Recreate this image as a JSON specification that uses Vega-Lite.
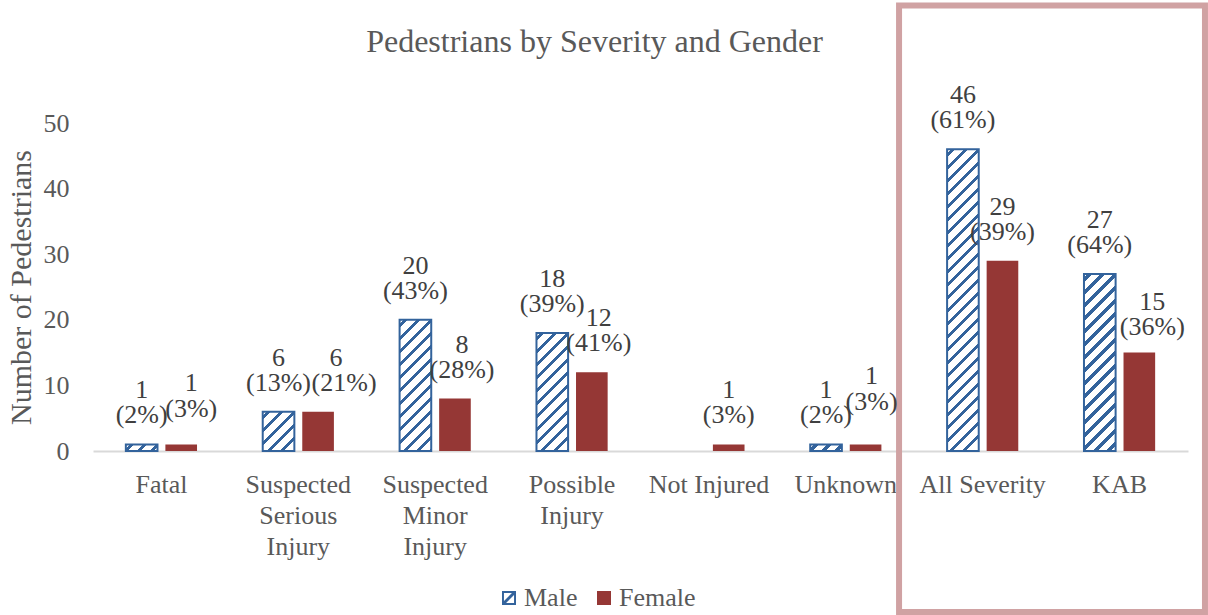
{
"$schema": "https://vega.github.io/schema/vega-lite/v6.json",
"width": 1095, "height": 328,
"autosize": {"type": "none"},
"padding": {"left": 93, "top": 123, "right": 20, "bottom": 164},
"config": {"font": "Liberation Serif", "view": {"stroke": null}},
"title": {"text": "Pedestrians by Severity and Gender", "fontSize": 32, "fontWeight": "normal", "color": "#595959", "font": "Liberation Serif", "anchor": "middle", "frame": "group", "dx": -46, "offset": 0, "dy": 81, "baseline": "alphabetic"},
"data": {"values": [
{"cat": "Fatal", "gender": "Male", "n": 1, "pct": "(2%)"},
{"cat": "Fatal", "gender": "Female", "n": 1, "pct": "(3%)"},
{"cat": "Suspected Serious Injury", "gender": "Male", "n": 6, "pct": "(13%)"},
{"cat": "Suspected Serious Injury", "gender": "Female", "n": 6, "pct": "(21%)"},
{"cat": "Suspected Minor Injury", "gender": "Male", "n": 20, "pct": "(43%)"},
{"cat": "Suspected Minor Injury", "gender": "Female", "n": 8, "pct": "(28%)"},
{"cat": "Possible Injury", "gender": "Male", "n": 18, "pct": "(39%)"},
{"cat": "Possible Injury", "gender": "Female", "n": 12, "pct": "(41%)"},
{"cat": "Not Injured", "gender": "Female", "n": 1, "pct": "(3%)"},
{"cat": "Unknown", "gender": "Male", "n": 1, "pct": "(2%)"},
{"cat": "Unknown", "gender": "Female", "n": 1, "pct": "(3%)"},
{"cat": "All Severity", "gender": "Male", "n": 46, "pct": "(61%)"},
{"cat": "All Severity", "gender": "Female", "n": 29, "pct": "(39%)"},
{"cat": "KAB", "gender": "Male", "n": 27, "pct": "(64%)"},
{"cat": "KAB", "gender": "Female", "n": 15, "pct": "(36%)"}
]},
"resolve": {"scale": {"x": "independent", "y": "independent"}},
"layer": [
{
"data": {"values": [{}]},
"mark": {"type": "rect", "filled": false, "color": "#d0a2a3", "strokeWidth": 6},
"encoding": {
"x": {"datum": 5.889, "type": "quantitative", "scale": {"domain": [0, 8]}, "axis": null},
"x2": {"datum": 8.124},
"y": {"datum": 67.91, "type": "quantitative", "scale": {"domain": [0, 50]}, "axis": null},
"y2": {"datum": -24.54}
}
},
{
"encoding": {
"x": {"field": "cat", "type": "nominal", "sort": null,
"scale": {"domain": ["Fatal", "Suspected Serious Injury", "Suspected Minor Injury", "Possible Injury", "Not Injured", "Unknown", "All Severity", "KAB"], "paddingInner": 0.48, "paddingOuter": 0.24},
"axis": {"title": null, "labelAngle": 0, "labelFontSize": 26, "labelColor": "#595959", "labelFont": "Liberation Serif", "labelPadding": 20, "labelLineHeight": 31, "ticks": false, "domainColor": "#d9d9d9", "domainWidth": 2, "labelOverlap": false, "labelLimit": 0, "labelBaseline": "top",
"labelExpr": "datum.label == 'Not Injured' || datum.label == 'All Severity' ? datum.label : split(datum.label, ' ')"}},
"xOffset": {"field": "gender", "type": "nominal", "scale": {"domain": ["Male", "Female"], "paddingInner": 0.2, "paddingOuter": 0}},
"y": {"field": "n", "type": "quantitative", "scale": {"domain": [0, 50], "nice": false},
"axis": {"title": "Number of Pedestrians", "titleFontSize": 30, "titleColor": "#595959", "titleFontWeight": "normal", "titleFont": "Liberation Serif", "titleX": -63, "titleY": 164, "titleAngle": -90, "titleBaseline": "alphabetic", "titleAlign": "center", "labelFontSize": 26, "labelColor": "#595959", "labelFont": "Liberation Serif", "labelPadding": 24, "ticks": false, "domain": false, "gridColor": "#d9d9d9", "gridWidth": 2, "values": [0, 10, 20, 30, 40, 50]}}
},
"layer": [
{
"mark": {"type": "bar", "strokeWidth": 2},
"encoding": {
"fill": {"field": "gender", "type": "nominal",
"scale": {"domain": ["Male", "Female"], "range": ["#33639c", "#953735"]},
"legend": {"orient": "none", "legendX": 403, "legendY": 462, "direction": "horizontal", "title": null, "symbolSize": 196, "labelFontSize": 26, "labelColor": "#595959", "labelFont": "Liberation Serif", "labelOffset": 2, "columnPadding": 13, "symbolStrokeWidth": 0},
"condition": [
{"test": "datum.gender === 'Male' && datum.n === 1", "value": {"gradient": "linear", "x1": 0, "y1": 0, "x2": 9.860, "y2": 2.047, "stops": [{"offset":0,"color":"#fff"},
{"offset":0.012,"color":"#fff"},{"offset":0.012,"color":"#33639c"},{"offset":0.026,"color":"#33639c"},{"offset":0.026,"color":"#fff"},
{"offset":0.052,"color":"#fff"},{"offset":0.052,"color":"#33639c"},{"offset":0.066,"color":"#33639c"},{"offset":0.066,"color":"#fff"},
{"offset":0.092,"color":"#fff"},{"offset":0.092,"color":"#33639c"},{"offset":0.106,"color":"#33639c"},{"offset":0.106,"color":"#fff"},
{"offset":1,"color":"#fff"}]}},
{"test": "datum.gender === 'Male' && datum.n === 6", "value": {"gradient": "linear", "x1": 0, "y1": 0, "x2": 4.031, "y2": 5.021, "stops": [{"offset":0,"color":"#fff"},
{"offset":0.012,"color":"#fff"},{"offset":0.012,"color":"#33639c"},{"offset":0.026,"color":"#33639c"},{"offset":0.026,"color":"#fff"},
{"offset":0.052,"color":"#fff"},{"offset":0.052,"color":"#33639c"},{"offset":0.066,"color":"#33639c"},{"offset":0.066,"color":"#fff"},
{"offset":0.092,"color":"#fff"},{"offset":0.092,"color":"#33639c"},{"offset":0.106,"color":"#33639c"},{"offset":0.106,"color":"#fff"},
{"offset":0.132,"color":"#fff"},{"offset":0.132,"color":"#33639c"},{"offset":0.146,"color":"#33639c"},{"offset":0.146,"color":"#fff"},
{"offset":0.172,"color":"#fff"},{"offset":0.172,"color":"#33639c"},{"offset":0.186,"color":"#33639c"},{"offset":0.186,"color":"#fff"},
{"offset":0.212,"color":"#fff"},{"offset":0.212,"color":"#33639c"},{"offset":0.226,"color":"#33639c"},{"offset":0.226,"color":"#fff"},
{"offset":1,"color":"#fff"}]}},
{"test": "datum.gender === 'Male' && datum.n === 20", "value": {"gradient": "linear", "x1": 0, "y1": 0, "x2": 0.5639, "y2": 2.3413, "stops": [{"offset":0,"color":"#fff"},
{"offset":0.012,"color":"#fff"},{"offset":0.012,"color":"#33639c"},{"offset":0.026,"color":"#33639c"},{"offset":0.026,"color":"#fff"},
{"offset":0.052,"color":"#fff"},{"offset":0.052,"color":"#33639c"},{"offset":0.066,"color":"#33639c"},{"offset":0.066,"color":"#fff"},
{"offset":0.092,"color":"#fff"},{"offset":0.092,"color":"#33639c"},{"offset":0.106,"color":"#33639c"},{"offset":0.106,"color":"#fff"},
{"offset":0.132,"color":"#fff"},{"offset":0.132,"color":"#33639c"},{"offset":0.146,"color":"#33639c"},{"offset":0.146,"color":"#fff"},
{"offset":0.172,"color":"#fff"},{"offset":0.172,"color":"#33639c"},{"offset":0.186,"color":"#33639c"},{"offset":0.186,"color":"#fff"},
{"offset":0.212,"color":"#fff"},{"offset":0.212,"color":"#33639c"},{"offset":0.226,"color":"#33639c"},{"offset":0.226,"color":"#fff"},
{"offset":0.252,"color":"#fff"},{"offset":0.252,"color":"#33639c"},{"offset":0.266,"color":"#33639c"},{"offset":0.266,"color":"#fff"},
{"offset":0.292,"color":"#fff"},{"offset":0.292,"color":"#33639c"},{"offset":0.306,"color":"#33639c"},{"offset":0.306,"color":"#fff"},
{"offset":0.332,"color":"#fff"},{"offset":0.332,"color":"#33639c"},{"offset":0.346,"color":"#33639c"},{"offset":0.346,"color":"#fff"},
{"offset":0.372,"color":"#fff"},{"offset":0.372,"color":"#33639c"},{"offset":0.386,"color":"#33639c"},{"offset":0.386,"color":"#fff"},
{"offset":0.412,"color":"#fff"},{"offset":0.412,"color":"#33639c"},{"offset":0.426,"color":"#33639c"},{"offset":0.426,"color":"#fff"},
{"offset":0.452,"color":"#fff"},{"offset":0.452,"color":"#33639c"},{"offset":0.466,"color":"#33639c"},{"offset":0.466,"color":"#fff"},
{"offset":0.492,"color":"#fff"},{"offset":0.492,"color":"#33639c"},{"offset":0.506,"color":"#33639c"},{"offset":0.506,"color":"#fff"},
{"offset":1,"color":"#fff"}]}},
{"test": "datum.gender === 'Male' && datum.n === 18", "value": {"gradient": "linear", "x1": 0, "y1": 0, "x2": 0.6874, "y2": 2.5685, "stops": [{"offset":0,"color":"#fff"},
{"offset":0.012,"color":"#fff"},{"offset":0.012,"color":"#33639c"},{"offset":0.026,"color":"#33639c"},{"offset":0.026,"color":"#fff"},
{"offset":0.052,"color":"#fff"},{"offset":0.052,"color":"#33639c"},{"offset":0.066,"color":"#33639c"},{"offset":0.066,"color":"#fff"},
{"offset":0.092,"color":"#fff"},{"offset":0.092,"color":"#33639c"},{"offset":0.106,"color":"#33639c"},{"offset":0.106,"color":"#fff"},
{"offset":0.132,"color":"#fff"},{"offset":0.132,"color":"#33639c"},{"offset":0.146,"color":"#33639c"},{"offset":0.146,"color":"#fff"},
{"offset":0.172,"color":"#fff"},{"offset":0.172,"color":"#33639c"},{"offset":0.186,"color":"#33639c"},{"offset":0.186,"color":"#fff"},
{"offset":0.212,"color":"#fff"},{"offset":0.212,"color":"#33639c"},{"offset":0.226,"color":"#33639c"},{"offset":0.226,"color":"#fff"},
{"offset":0.252,"color":"#fff"},{"offset":0.252,"color":"#33639c"},{"offset":0.266,"color":"#33639c"},{"offset":0.266,"color":"#fff"},
{"offset":0.292,"color":"#fff"},{"offset":0.292,"color":"#33639c"},{"offset":0.306,"color":"#33639c"},{"offset":0.306,"color":"#fff"},
{"offset":0.332,"color":"#fff"},{"offset":0.332,"color":"#33639c"},{"offset":0.346,"color":"#33639c"},{"offset":0.346,"color":"#fff"},
{"offset":0.372,"color":"#fff"},{"offset":0.372,"color":"#33639c"},{"offset":0.386,"color":"#33639c"},{"offset":0.386,"color":"#fff"},
{"offset":0.412,"color":"#fff"},{"offset":0.412,"color":"#33639c"},{"offset":0.426,"color":"#33639c"},{"offset":0.426,"color":"#fff"},
{"offset":0.452,"color":"#fff"},{"offset":0.452,"color":"#33639c"},{"offset":0.466,"color":"#33639c"},{"offset":0.466,"color":"#fff"},
{"offset":1,"color":"#fff"}]}},
{"test": "datum.gender === 'Male' && datum.n === 46", "value": {"gradient": "linear", "x1": 0, "y1": 0, "x2": 0.11156, "y2": 1.06533, "stops": [{"offset":0,"color":"#fff"},
{"offset":0.012,"color":"#fff"},{"offset":0.012,"color":"#33639c"},{"offset":0.026,"color":"#33639c"},{"offset":0.026,"color":"#fff"},
{"offset":0.052,"color":"#fff"},{"offset":0.052,"color":"#33639c"},{"offset":0.066,"color":"#33639c"},{"offset":0.066,"color":"#fff"},
{"offset":0.092,"color":"#fff"},{"offset":0.092,"color":"#33639c"},{"offset":0.106,"color":"#33639c"},{"offset":0.106,"color":"#fff"},
{"offset":0.132,"color":"#fff"},{"offset":0.132,"color":"#33639c"},{"offset":0.146,"color":"#33639c"},{"offset":0.146,"color":"#fff"},
{"offset":0.172,"color":"#fff"},{"offset":0.172,"color":"#33639c"},{"offset":0.186,"color":"#33639c"},{"offset":0.186,"color":"#fff"},
{"offset":0.212,"color":"#fff"},{"offset":0.212,"color":"#33639c"},{"offset":0.226,"color":"#33639c"},{"offset":0.226,"color":"#fff"},
{"offset":0.252,"color":"#fff"},{"offset":0.252,"color":"#33639c"},{"offset":0.266,"color":"#33639c"},{"offset":0.266,"color":"#fff"},
{"offset":0.292,"color":"#fff"},{"offset":0.292,"color":"#33639c"},{"offset":0.306,"color":"#33639c"},{"offset":0.306,"color":"#fff"},
{"offset":0.332,"color":"#fff"},{"offset":0.332,"color":"#33639c"},{"offset":0.346,"color":"#33639c"},{"offset":0.346,"color":"#fff"},
{"offset":0.372,"color":"#fff"},{"offset":0.372,"color":"#33639c"},{"offset":0.386,"color":"#33639c"},{"offset":0.386,"color":"#fff"},
{"offset":0.412,"color":"#fff"},{"offset":0.412,"color":"#33639c"},{"offset":0.426,"color":"#33639c"},{"offset":0.426,"color":"#fff"},
{"offset":0.452,"color":"#fff"},{"offset":0.452,"color":"#33639c"},{"offset":0.466,"color":"#33639c"},{"offset":0.466,"color":"#fff"},
{"offset":0.492,"color":"#fff"},{"offset":0.492,"color":"#33639c"},{"offset":0.506,"color":"#33639c"},{"offset":0.506,"color":"#fff"},
{"offset":0.532,"color":"#fff"},{"offset":0.532,"color":"#33639c"},{"offset":0.546,"color":"#33639c"},{"offset":0.546,"color":"#fff"},
{"offset":0.572,"color":"#fff"},{"offset":0.572,"color":"#33639c"},{"offset":0.586,"color":"#33639c"},{"offset":0.586,"color":"#fff"},
{"offset":0.612,"color":"#fff"},{"offset":0.612,"color":"#33639c"},{"offset":0.626,"color":"#33639c"},{"offset":0.626,"color":"#fff"},
{"offset":0.652,"color":"#fff"},{"offset":0.652,"color":"#33639c"},{"offset":0.666,"color":"#33639c"},{"offset":0.666,"color":"#fff"},
{"offset":0.692,"color":"#fff"},{"offset":0.692,"color":"#33639c"},{"offset":0.706,"color":"#33639c"},{"offset":0.706,"color":"#fff"},
{"offset":0.732,"color":"#fff"},{"offset":0.732,"color":"#33639c"},{"offset":0.746,"color":"#33639c"},{"offset":0.746,"color":"#fff"},
{"offset":0.772,"color":"#fff"},{"offset":0.772,"color":"#33639c"},{"offset":0.786,"color":"#33639c"},{"offset":0.786,"color":"#fff"},
{"offset":0.812,"color":"#fff"},{"offset":0.812,"color":"#33639c"},{"offset":0.826,"color":"#33639c"},{"offset":0.826,"color":"#fff"},
{"offset":0.852,"color":"#fff"},{"offset":0.852,"color":"#33639c"},{"offset":0.866,"color":"#33639c"},{"offset":0.866,"color":"#fff"},
{"offset":0.892,"color":"#fff"},{"offset":0.892,"color":"#33639c"},{"offset":0.906,"color":"#33639c"},{"offset":0.906,"color":"#fff"},
{"offset":0.932,"color":"#fff"},{"offset":0.932,"color":"#33639c"},{"offset":0.946,"color":"#33639c"},{"offset":0.946,"color":"#fff"},
{"offset":0.972,"color":"#fff"},{"offset":0.972,"color":"#33639c"},{"offset":0.986,"color":"#33639c"},{"offset":0.986,"color":"#fff"},
{"offset":1,"color":"#fff"}]}},
{"test": "datum.gender === 'Male' && datum.n === 27", "value": {"gradient": "linear", "x1": 0, "y1": 0, "x2": 0.31727, "y2": 1.77831, "stops": [{"offset":0,"color":"#fff"},
{"offset":0.012,"color":"#fff"},{"offset":0.012,"color":"#33639c"},{"offset":0.026,"color":"#33639c"},{"offset":0.026,"color":"#fff"},
{"offset":0.052,"color":"#fff"},{"offset":0.052,"color":"#33639c"},{"offset":0.066,"color":"#33639c"},{"offset":0.066,"color":"#fff"},
{"offset":0.092,"color":"#fff"},{"offset":0.092,"color":"#33639c"},{"offset":0.106,"color":"#33639c"},{"offset":0.106,"color":"#fff"},
{"offset":0.132,"color":"#fff"},{"offset":0.132,"color":"#33639c"},{"offset":0.146,"color":"#33639c"},{"offset":0.146,"color":"#fff"},
{"offset":0.172,"color":"#fff"},{"offset":0.172,"color":"#33639c"},{"offset":0.186,"color":"#33639c"},{"offset":0.186,"color":"#fff"},
{"offset":0.212,"color":"#fff"},{"offset":0.212,"color":"#33639c"},{"offset":0.226,"color":"#33639c"},{"offset":0.226,"color":"#fff"},
{"offset":0.252,"color":"#fff"},{"offset":0.252,"color":"#33639c"},{"offset":0.266,"color":"#33639c"},{"offset":0.266,"color":"#fff"},
{"offset":0.292,"color":"#fff"},{"offset":0.292,"color":"#33639c"},{"offset":0.306,"color":"#33639c"},{"offset":0.306,"color":"#fff"},
{"offset":0.332,"color":"#fff"},{"offset":0.332,"color":"#33639c"},{"offset":0.346,"color":"#33639c"},{"offset":0.346,"color":"#fff"},
{"offset":0.372,"color":"#fff"},{"offset":0.372,"color":"#33639c"},{"offset":0.386,"color":"#33639c"},{"offset":0.386,"color":"#fff"},
{"offset":0.412,"color":"#fff"},{"offset":0.412,"color":"#33639c"},{"offset":0.426,"color":"#33639c"},{"offset":0.426,"color":"#fff"},
{"offset":0.452,"color":"#fff"},{"offset":0.452,"color":"#33639c"},{"offset":0.466,"color":"#33639c"},{"offset":0.466,"color":"#fff"},
{"offset":0.492,"color":"#fff"},{"offset":0.492,"color":"#33639c"},{"offset":0.506,"color":"#33639c"},{"offset":0.506,"color":"#fff"},
{"offset":0.532,"color":"#fff"},{"offset":0.532,"color":"#33639c"},{"offset":0.546,"color":"#33639c"},{"offset":0.546,"color":"#fff"},
{"offset":0.572,"color":"#fff"},{"offset":0.572,"color":"#33639c"},{"offset":0.586,"color":"#33639c"},{"offset":0.586,"color":"#fff"},
{"offset":0.612,"color":"#fff"},{"offset":0.612,"color":"#33639c"},{"offset":0.626,"color":"#33639c"},{"offset":0.626,"color":"#fff"},
{"offset":1,"color":"#fff"}]}}
]},
"stroke": {"condition": {"test": "datum.gender === 'Male'", "value": "#33639c"}, "value": null}
}
},
{
"transform": [{"filter": "false"}],
"mark": {"type": "point", "filled": true},
"encoding": {
"fill": {"field": "gender", "type": "nominal",
"scale": {"domain": ["Male", "Female"], "range": ["#33639c", "#953735"]},
"legend": {"orient": "none", "legendX": 403, "legendY": 462, "direction": "horizontal", "title": null, "symbolSize": 196, "labelFontSize": 26, "labelColor": "#595959", "labelFont": "Liberation Serif", "labelOffset": 2, "columnPadding": 13, "symbolStrokeWidth": 0}},
"shape": {"field": "gender", "type": "nominal",
"scale": {"domain": ["Male", "Female"], "range": ["M-1,-1H1V1H-1Z M-0.72,-0.72V0.72H0.72V-0.72Z M-1,0.7L0.7,-1L1,-1L1,-0.7L-0.7,1L-1,1Z M0.56,1L1,0.56L1,1Z M-1,-1L-0.56,-1L-1,-0.56Z", "square"]},
"legend": {"orient": "none", "legendX": 403, "legendY": 462, "direction": "horizontal", "title": null, "symbolSize": 196, "labelFontSize": 26, "labelColor": "#595959", "labelFont": "Liberation Serif", "labelOffset": 2, "columnPadding": 13, "symbolStrokeWidth": 0}}
}
},
{"transform": [{"filter": "datum.gender === 'Male'"}],
 "layer": [
  {"mark": {"type": "text", "dy": -46, "fontSize": 26, "color": "#404040", "baseline": "alphabetic", "font": "Liberation Serif"}, "encoding": {"text": {"field": "n", "type": "quantitative"}}},
  {"mark": {"type": "text", "dy": -21, "fontSize": 26, "color": "#404040", "baseline": "alphabetic", "font": "Liberation Serif"}, "encoding": {"text": {"field": "pct", "type": "nominal"}}}
 ]},
{"transform": [{"filter": "datum.gender === 'Female' && (datum.cat === 'Not Injured' || datum.cat === 'All Severity')"}],
 "layer": [
  {"mark": {"type": "text", "dy": -46, "fontSize": 26, "color": "#404040", "baseline": "alphabetic", "font": "Liberation Serif"}, "encoding": {"text": {"field": "n", "type": "quantitative"}}},
  {"mark": {"type": "text", "dy": -21, "fontSize": 26, "color": "#404040", "baseline": "alphabetic", "font": "Liberation Serif"}, "encoding": {"text": {"field": "pct", "type": "nominal"}}}
 ]},
{"transform": [{"filter": "datum.gender === 'Female' && (datum.cat === 'Suspected Minor Injury' || datum.cat === 'Possible Injury')"}],
 "layer": [
  {"mark": {"type": "text", "dx": 7, "dy": -46, "fontSize": 26, "color": "#404040", "baseline": "alphabetic", "font": "Liberation Serif"}, "encoding": {"text": {"field": "n", "type": "quantitative"}}},
  {"mark": {"type": "text", "dx": 7, "dy": -21, "fontSize": 26, "color": "#404040", "baseline": "alphabetic", "font": "Liberation Serif"}, "encoding": {"text": {"field": "pct", "type": "nominal"}}}
 ]},
{"transform": [{"filter": "datum.gender === 'Female' && datum.cat === 'Unknown'"}],
 "layer": [
  {"mark": {"type": "text", "dx": 6, "dy": -60, "fontSize": 26, "color": "#404040", "baseline": "alphabetic", "font": "Liberation Serif"}, "encoding": {"text": {"field": "n", "type": "quantitative"}}},
  {"mark": {"type": "text", "dx": 6, "dy": -34, "fontSize": 26, "color": "#404040", "baseline": "alphabetic", "font": "Liberation Serif"}, "encoding": {"text": {"field": "pct", "type": "nominal"}}}
 ]},
{"transform": [{"filter": "datum.gender === 'Female' && datum.cat === 'Fatal'"}],
 "layer": [
  {"mark": {"type": "text", "dx": 10, "dy": -53, "fontSize": 26, "color": "#404040", "baseline": "alphabetic", "font": "Liberation Serif"}, "encoding": {"text": {"field": "n", "type": "quantitative"}}},
  {"mark": {"type": "text", "dx": 10, "dy": -27, "fontSize": 26, "color": "#404040", "baseline": "alphabetic", "font": "Liberation Serif"}, "encoding": {"text": {"field": "pct", "type": "nominal"}}}
 ]},
{"transform": [{"filter": "datum.gender === 'Female' && datum.cat === 'KAB'"}],
 "layer": [
  {"mark": {"type": "text", "dx": 13, "dy": -43, "fontSize": 26, "color": "#404040", "baseline": "alphabetic", "font": "Liberation Serif"}, "encoding": {"text": {"field": "n", "type": "quantitative"}}},
  {"mark": {"type": "text", "dx": 13, "dy": -18, "fontSize": 26, "color": "#404040", "baseline": "alphabetic", "font": "Liberation Serif"}, "encoding": {"text": {"field": "pct", "type": "nominal"}}}
 ]},
{"transform": [{"filter": "datum.gender === 'Female' && datum.cat === 'Suspected Serious Injury'"}],
 "layer": [
  {"mark": {"type": "text", "dx": 18, "dy": -46, "fontSize": 26, "color": "#404040", "baseline": "alphabetic", "font": "Liberation Serif"}, "encoding": {"text": {"field": "n", "type": "quantitative"}}},
  {"mark": {"type": "text", "dx": 26, "dy": -21, "fontSize": 26, "color": "#404040", "baseline": "alphabetic", "font": "Liberation Serif"}, "encoding": {"text": {"field": "pct", "type": "nominal"}}}
 ]}
]
}
]
}
